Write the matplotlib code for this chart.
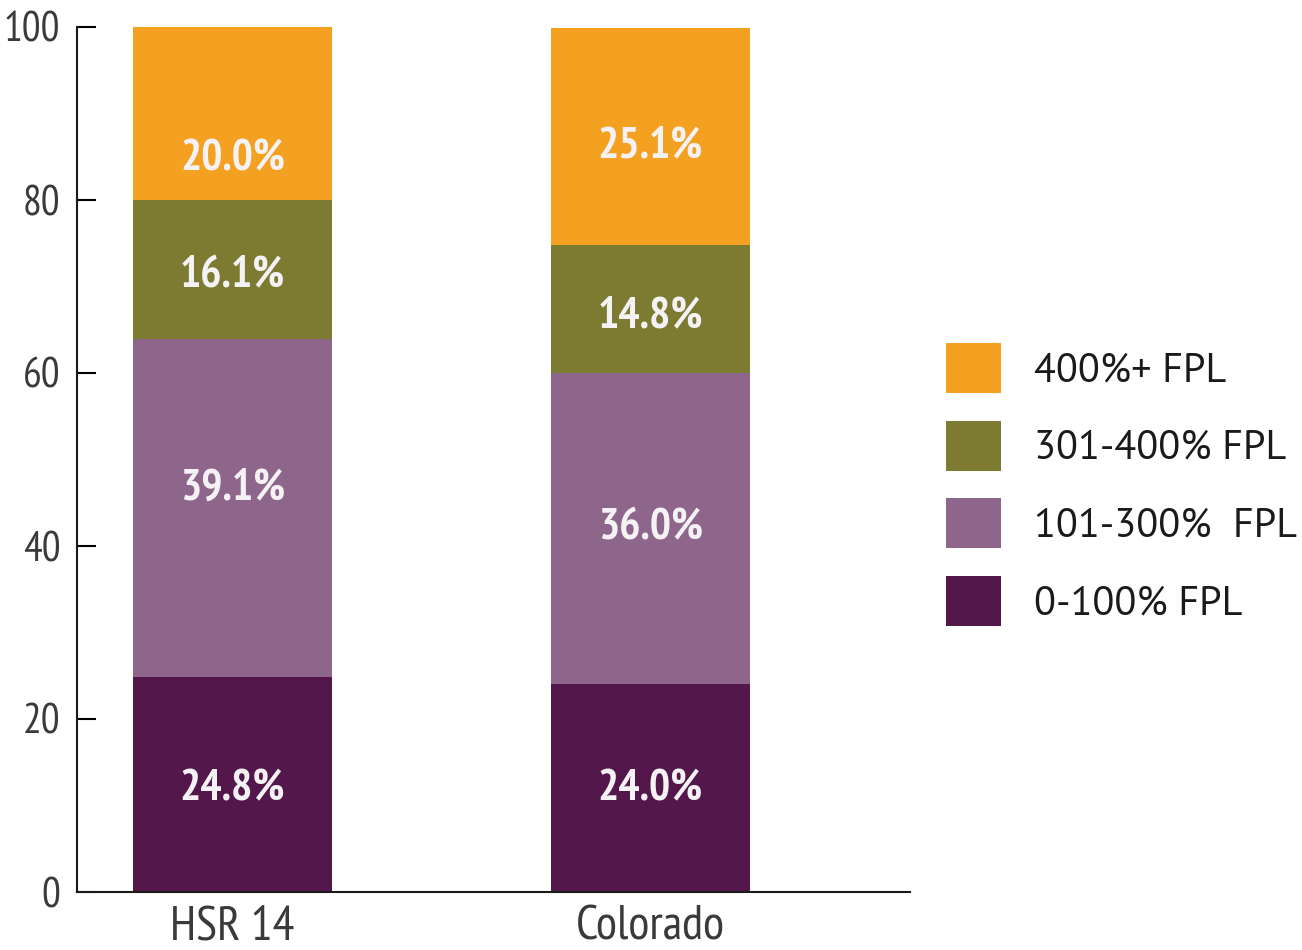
import matplotlib
matplotlib.use("Agg")
import matplotlib.pyplot as plt
from matplotlib.patches import Patch
import numpy as np

categories = ["HSR 14", "Colorado"]
series_names = ["0-100% FPL", "101-300%  FPL", "301-400% FPL", "400%+ FPL"]
fpl_0_100 = [24.8, 24.0]
fpl_101_300 = [39.1, 36.0]
fpl_301_400 = [16.1, 14.8]
fpl_400_plus = [20.0, 25.1]
y_ticks = [0, 20, 40, 60, 80, 100]

series = [fpl_0_100, fpl_101_300, fpl_301_400, fpl_400_plus]
colors = ["#54174C", "#8E658B", "#7D7A32", "#F4A020"]
# per-label vertical nudges (points) to mimic the reference label placement
label_dy = [[-3, -1], [14, 0], [-5, -5], [-33, -7]]

narrow = ["PT Sans Narrow", "Roboto Condensed", "Barlow Semi Condensed", "DejaVu Sans"]
regular = ["PT Sans", "Open Sans", "DejaVu Sans"]

fig = plt.figure(figsize=(13.02, 9.5), dpi=100)
ax = fig.add_axes([77/1302, 1-892/950, (910-77)/1302, (892-27)/950])

x = np.arange(len(categories))
bottom = np.zeros(len(categories))
width = 0.475
for si, (vals, col) in enumerate(zip(series, colors)):
    bars = ax.bar(x, vals, width, bottom=bottom, color=col, linewidth=0)
    for bi, (b, v) in enumerate(zip(bars, vals)):
        cy = b.get_y() + b.get_height() / 2
        ax.annotate(f"{v:.1f}%", (b.get_x() + b.get_width() / 2, cy),
                    xytext=(0, label_dy[si][bi]), textcoords="offset points",
                    ha="center", va="center", color="#F4F2F4",
                    fontsize=32, fontweight="bold", family=narrow)
    bottom += np.array(vals)

ax.set_xlim(-0.372, 1.621)
ax.set_ylim(0, 100)
ax.set_yticks(y_ticks)
ax.set_yticklabels([str(t) for t in y_ticks], family=narrow, fontsize=30, color="#3a3a3a")
ax.set_xticks(x)
ax.set_xticklabels(categories, family=narrow, fontsize=35, color="#3a3a3a")
ax.tick_params(axis="y", direction="in", length=14, width=1.5, pad=12)
ax.tick_params(axis="x", length=0, pad=10)
for s in ["top", "right"]:
    ax.spines[s].set_visible(False)
for s in ["left", "bottom"]:
    ax.spines[s].set_linewidth(1.5)
    ax.spines[s].set_color("#1a1a1a")

handles = [Patch(facecolor=c, edgecolor="none") for c in colors][::-1]
labels = series_names[::-1]
fig.legend(handles, labels, loc="upper left", bbox_to_anchor=(946/1302, 1-343/950),
           frameon=False, borderpad=0, borderaxespad=0,
           prop={"family": regular, "size": 29},
           handlelength=1.36, handleheight=1.54, handletextpad=0.82,
           labelspacing=0.68, labelcolor="#1a1a1a")

fig.savefig("out.png", dpi=100)
